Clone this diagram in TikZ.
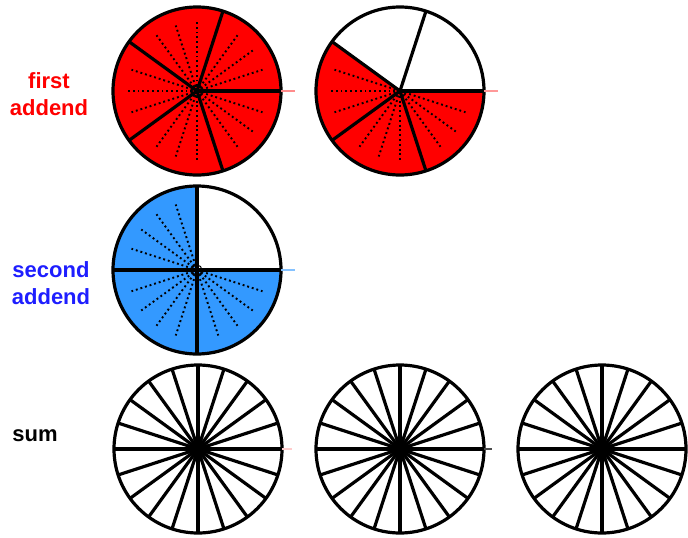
\documentclass[tikz,border=0pt]{standalone}
\usepackage{fontspec}
\setmainfont{Liberation Sans}
\usepackage{tikz}
\usetikzlibrary{positioning}
\definecolor{colFirst}{RGB}{255,0,0}
\definecolor{colSecond}{RGB}{51,153,255}
\definecolor{colSecondText}{RGB}{30,30,255}
\tikzset{
	rim/.style={draw, line width=3.2pt},
	spoke/.style={line width=3.2pt},
	dotspoke/.style={line width=1.9pt, dash pattern=on 1.9pt off 2.9pt},
	tick/.style={line width=1.4pt},
	addlabel/.style={font=\fontsize{22}{27}\selectfont\bfseries, align=center},
}

\begin{document}
\begin{tikzpicture}[x=1pt, y=1pt]
	\useasboundingbox (0,0) rectangle (688,-538);
	\def\R{84}

	% centres of the wheels
	\coordinate (fa1) at (197,-91);
	\coordinate (fa2) at (400,-91);
	\coordinate (sa) at (197,-270);
	\coordinate (sum1) at (198,-449);
	\coordinate (sum2) at (400,-449);
	\coordinate (sum3) at (602,-449);

	% labels
	\node[addlabel, text=colFirst] (lblFirst) at (49,-94) {first\\addend};
	\node[addlabel, text=colSecondText] (lblSecond) at (51,-283) {second\\addend};
	\node[addlabel] (lblSum) at (35,-436) {sum};

	% first addend, whole wheel (5/5)
	\fill[colFirst] (fa1) circle[radius=\R];
	\foreach \a in {18,36,54,90,108,126,162,180,198,234,252,270,306,324,342}
		\draw[dotspoke] (fa1) -- ++(\a:0.82*\R);
	\foreach \a in {0,72,...,288}
		\draw[spoke] (fa1) -- ++(\a:\R);
	\draw[rim] (fa1) circle[radius=\R];
	\draw[line width=1pt] (fa1) circle[radius=5];
	\draw[tick, colFirst!45] (fa1) ++(\R,0) -- ++(14,0);

	% first addend, 3/5
	\fill[colFirst] (fa2) -- ++(144:\R) arc[start angle=144, end angle=360, radius=\R] -- cycle;
	\foreach \a in {162,180,198,234,252,270,306,324,342}
		\draw[dotspoke] (fa2) -- ++(\a:0.82*\R);
	\foreach \a in {0,72,...,288}
		\draw[spoke] (fa2) -- ++(\a:\R);
	\draw[rim] (fa2) circle[radius=\R];
	\draw[tick, colFirst!40] (fa2) ++(\R,0) -- ++(14,0);

	% second addend, 3/4
	\fill[colSecond] (sa) -- ++(90:\R) arc[start angle=90, end angle=360, radius=\R] -- cycle;
	\foreach \a in {108,126,144,162,198,216,234,252,288,306,324,342}
		\draw[dotspoke] (sa) -- ++(\a:0.82*\R);
	\foreach \a in {0,90,...,270}
		\draw[spoke] (sa) -- ++(\a:\R);
	\draw[rim] (sa) circle[radius=\R];
	\draw[line width=1pt] (sa) circle[radius=5];
	\draw[tick, colSecond!60] (sa) ++(\R,0) -- ++(14,0);

	% sum, three empty wheels in twentieths
	\foreach \c in {sum1,sum2,sum3} {
		\foreach \a in {0,18,...,342}
			\draw[spoke] (\c) -- ++(\a:\R);
		\fill (\c) circle[radius=8];
		\draw[rim] (\c) circle[radius=\R];
	}
	\draw[tick, colFirst!20] (sum1) ++(\R,0) -- ++(10,0);
	\draw[tick, black!70] (sum2) ++(\R,0) -- ++(8,0);
\end{tikzpicture}
\end{document}
